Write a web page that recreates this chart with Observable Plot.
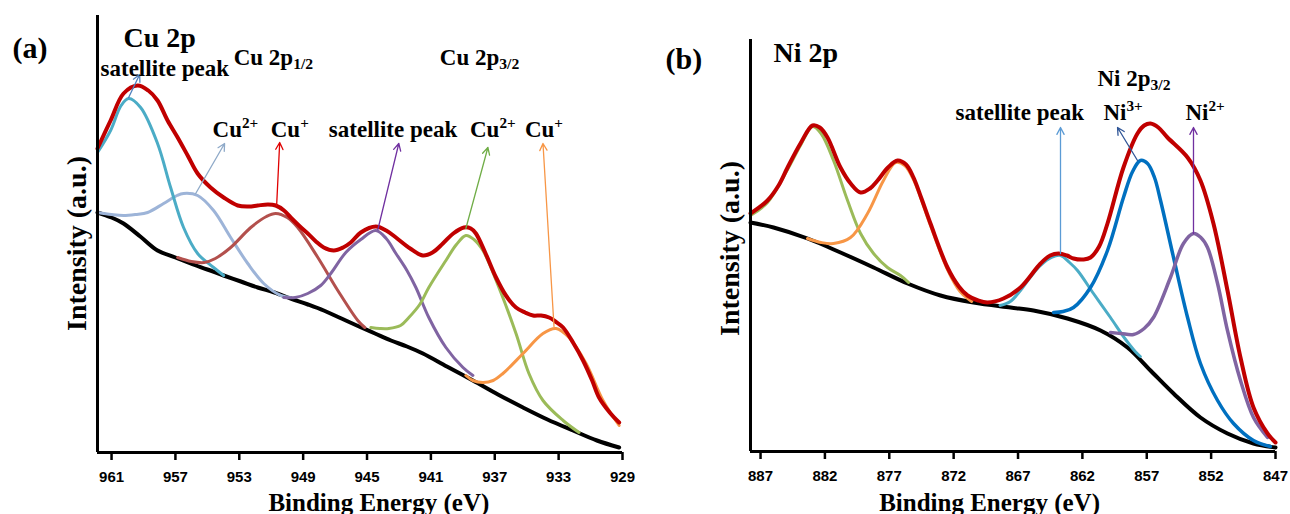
<!DOCTYPE html>
<html>
<head>
<meta charset="utf-8">
<script src="https://cdn.jsdelivr.net/npm/d3@7"></script>
<script src="https://cdn.jsdelivr.net/npm/@observablehq/plot@0.6"></script>
<style>
  html, body { margin: 0; padding: 0; background: #fff; }
  #wrap { position: relative; width: 1290px; height: 514px; overflow: hidden; background: #fff; }
  #pa, #pb { position: absolute; top: 0; width: 645px; height: 514px; }
  #pa { left: 0; }
  #pb { left: 645px; }
</style>
</head>
<body>
<div id="wrap"><div id="pa"></div><div id="pb"></div></div>
<script>
// ---------------- Panel (a): Cu 2p ----------------
const cuTicks = [961, 957, 953, 949, 945, 941, 937, 933, 929];
const cuEnvelope = [[961.88,304],[961.06,332],[960.25,359],[959.37,367],[958.7,362],[958.12,352],[957.49,332],[956.86,315],[956.2,296],[955.61,279],[954.8,265],[953.98,255],[953.1,247],[952.4,246],[951.85,247],[951.2,248],[950.72,247],[950.2,242],[949.78,235],[949.2,226],[948.71,219],[948.2,211],[947.71,205],[947.08,202],[946.5,205],[946.02,210],[945.39,220],[944.45,226],[943.8,222],[943.19,215],[942.3,204],[941.5,197],[940.9,200],[940.25,209],[939.6,219],[938.93,225],[938.5,224],[938.18,219],[937.6,200],[936.92,175],[936.3,157],[935.67,145],[935.1,140],[934.6,137],[934.1,137],[933.6,135],[933.2,131],[932.72,125],[932.1,110],[931.47,92],[930.9,72],[930.47,55],[929.8,40],[929.21,30]];
const cuBackground = [[961.88,240],[961.0,235],[960.25,229],[959.2,216],[958.12,202],[957.0,195],[956.05,189],[955.0,183],[953.98,177],[952.9,171],[951.85,165],[950.8,160],[949.78,154],[948.7,148],[947.71,142],[946.6,134],[945.5,126],[944.5,119],[943.5,112],[942.5,106],[941.5,99],[940.0,86],[938.37,72],[936.8,58],[935.23,45],[933.7,33],[932.1,22],[930.6,12],[929.21,5]];
const cuSatellite1 = [[961.88,300],[961.06,322],[960.4,347],[959.93,354],[959.18,345],[958.12,309],[957.3,265],[956.49,225],[955.61,199],[954.61,185],[953.98,177]];
const cuCu2_p12 = [[961.88,240],[961.0,238],[960.25,237],[959.5,238],[958.74,240],[957.74,249],[956.9,257],[956.49,259],[955.61,257],[954.61,242],[953.54,215],[952.47,189],[951.47,169],[950.4,157],[949.78,155]];
const cuCu1_p12 = [[956.86,195],[956.0,191],[955.2,190],[954.5,194],[953.54,205],[952.28,225],[951.3,236],[950.72,239],[950.0,235],[949.34,225],[948.08,195],[946.83,162],[945.58,132],[945.14,125]];
const cuSatellite2 = [[950.22,155],[949.5,155],[948.71,159],[947.9,167],[947.27,179],[946.33,200],[945.39,213],[944.45,222],[943.8,214],[943.19,199],[942.5,182],[941.94,165],[941.13,135],[940.06,105],[938.99,85],[938.37,77]];
const cuCu2_p32 = [[944.76,125],[944.2,124],[943.63,124],[942.9,127],[942.38,135],[941.7,148],[941.13,165],[940.06,192],[939.4,208],[938.81,217],[938.3,213],[937.74,202],[936.74,165],[935.67,119],[934.86,79],[933.98,52],[932.72,32],[931.72,20]];
const cuCu1_p32 = [[938.81,77],[938.37,72],[937.74,70],[937.1,72],[936.49,79],[935.23,99],[933.98,119],[933.16,124],[932.35,115],[931.28,89],[930.22,52],[929.21,27]];

// ---------------- Panel (b): Ni 2p ----------------
const niTicks = [887, 882, 877, 872, 867, 862, 857, 852, 847];
const niEnvelope = [[887.78,238],[886.46,251],[885.6,266],[884.9,284],[883.9,308],[882.96,326],[882.4,324],[881.8,314],[880.79,284],[880.0,268],[879.23,259],[878.5,263],[877.91,271],[877.1,284],[876.36,291],[875.7,287],[875.12,274],[874.5,253],[873.8,228],[872.48,184],[871.6,165],[870.92,156],[870.1,151],[869.37,149],[868.13,153],[866.81,164],[865.25,188],[864.5,196],[863.85,198],[863.2,196],[862.69,193],[861.9,192],[861.37,194],[860.7,205],[860.05,228],[858.81,284],[857.72,318],[857.2,326],[856.71,328],[856.1,324],[855.39,314],[853.83,294],[852.83,271],[851.82,228],[850.73,161],[849.72,94],[848.71,44],[847.62,18],[847.0,9]];
const niBackground = [[887.78,229],[885.99,224],[883.35,213],[880.79,199],[878.22,184],[875.58,168],[873.02,156],[870.46,149],[867.58,144],[865.8,141],[863.16,133],[860.59,121],[858.5,104],[856.71,81],[854.92,58],[852.83,34],[850.73,18],[848.71,8],[847.0,4]];
const niSatelliteA = [[887.78,236],[886.46,249],[884.9,282],[883.9,306],[882.96,325],[882.3,318],[881.33,291],[880.24,251],[879.23,218],[878.22,198],[877.14,184],[876.13,176],[875.5,169]];
const niSatelliteB = [[883.35,213],[882.3,209],[881.33,208],[880.01,214],[878.69,238],[877.45,271],[876.51,289],[875.8,286],[875.12,272],[873.8,226],[872.48,182],[871.5,160],[870.6,150]];
const niSatelliteC = [[868.4,146],[867.6,150],[866.81,161],[866.0,175],[865.25,186],[864.4,194],[863.7,196],[863.0,189],[862.38,181],[861.14,158],[859.82,134],[858.7,113],[857.9,100],[857.5,95]];
const niNi3 = [[864.24,139],[863.5,140],[862.69,144],[861.37,164],[860.05,201],[858.81,254],[858.1,280],[857.49,291],[856.94,288],[856.4,274],[855.93,251],[854.92,194],[853.83,134],[852.83,88],[851.5,51],[850.26,28],[848.71,11],[847.4,5]];
const niNi2 = [[859.82,119],[859.0,118],[858.03,117],[857.2,123],[856.48,134],[855.16,174],[854.15,208],[853.37,218],[852.8,214],[852.28,204],[851.5,168],[850.73,121],[849.72,71],[848.71,34],[847.62,14]];

// ---------------- Annotations (data units: eV, a.u.) ----------------
const cuArrows = [
  {x1: 959.93, y1: 355, x2: 959.24, y2: 378, c: "#4F81BD"},
  {x1: 955.73, y1: 259, x2: 953.92, y2: 309, c: "#8EA9C8"},
  {x1: 950.66, y1: 247, x2: 950.47, y2: 310, c: "#E00000"},
  {x1: 944.32, y1: 223, x2: 943.01, y2: 309, c: "#7030A0"},
  {x1: 938.81, y1: 224, x2: 937.43, y2: 305, c: "#70AD47"},
  {x1: 933.29, y1: 126, x2: 933.98, y2: 309, c: "#F79646"}
];
const niArrows = [
  {x1: 863.70, y1: 198, x2: 863.70, y2: 324, c: "#5B9BD5"},
  {x1: 857.72, y1: 291, x2: 859.27, y2: 324, c: "#2F5597"},
  {x1: 853.37, y1: 218, x2: 853.37, y2: 324, c: "#7030A0"}
];
const cuPanelLabel = [{x: 967.21, y: 395, t: "(a)"}];
const cuTitle = [{x: 960.25, y: 406, t: "Cu 2p"}];
const cuNotes = [
  {x: 961.69, y: 377, t: "satellite peak"},
  {x: 953.35, y: 388, t: "Cu 2p_{1/2}"},
  {x: 940.44, y: 388, t: "Cu 2p_{3/2}"},
  {x: 954.67, y: 316, t: "Cu^{2+}"},
  {x: 951.03, y: 316, t: "Cu^{+}"},
  {x: 947.39, y: 316, t: "satellite peak"},
  {x: 938.55, y: 316, t: "Cu^{2+}"},
  {x: 935.11, y: 316, t: "Cu^{+}"}
];
const niPanelLabel = [{x: 894.38, y: 383, t: "(b)"}];
const niTitle = [{x: 885.99, y: 390, t: "Ni 2p"}];
const niNotes = [
  {x: 860.83, y: 366, t: "Ni 2p_{3/2}"},
  {x: 871.85, y: 332, t: "satellite peak"},
  {x: 860.36, y: 332, t: "Ni^{3+}"},
  {x: 853.99, y: 332, t: "Ni^{2+}"}
];
const xTitle = "Binding Energy (eV)";
const yTitle = "Intensity (a.u.)";

const SERIF = "'Liberation Serif', 'Times New Roman', Times, serif";
const SANS = "'Liberation Sans', Arial, sans-serif";

function lineMark(data, color, w) {
  return Plot.line(data, {x: d => d[0], y: d => d[1], stroke: color, strokeWidth: w,
    curve: "catmull-rom", strokeLinecap: "round", strokeLinejoin: "round"});
}

function panel(cfg) {
  const textBase = {x: "x", y: "y", text: "t", fill: "black", fontFamily: SERIF, fontWeight: "bold", textAnchor: "start", lineAnchor: "bottom", ariaLabel: "ann"};
  return Plot.plot({
    width: 645, height: 514,
    marginLeft: cfg.ml, marginRight: cfg.mr, marginTop: cfg.mt, marginBottom: cfg.mb,
    x: {domain: cfg.xDomain},
    y: {domain: cfg.yDomain, axis: null},
    style: {background: "white", overflow: "visible"},
    marks: [
      ...cfg.series.map(s => lineMark(s.data, s.color, s.w)),
      Plot.ruleY([cfg.yDomain[0]], {stroke: "black", strokeWidth: 3}),
      Plot.ruleX([cfg.xDomain[0]], {y1: cfg.yDomain[0], y2: cfg.yDomain[1], stroke: "black", strokeWidth: 3}),
      Plot.axisX(cfg.ticks, {anchor: "bottom", tickSize: 8, tickPadding: 11, strokeWidth: 2.5, stroke: "black",
        tickFormat: d => String(d), fontSize: 15, fontWeight: "bold", fontFamily: SANS, fill: "black", label: null}),
      Plot.arrow(cfg.arrows, {x1: "x1", y1: "y1", x2: "x2", y2: "y2", stroke: d => d.c, strokeWidth: 1.3, headLength: 9, headAngle: 55}),
      Plot.text(cfg.panelLabel, {...textBase, fontSize: 30}),
      Plot.text(cfg.title, {...textBase, fontSize: 28}),
      Plot.text(cfg.notes, {...textBase, fontSize: 23}),
      Plot.text([cfg.xt], {x: "x", y: "y", text: "t", fontFamily: SERIF, fontWeight: "bold", fontSize: 25, textAnchor: "middle", lineAnchor: "bottom", fill: "black"}),
      Plot.text([cfg.yt], {x: "x", y: "y", text: "t", fontFamily: SERIF, fontWeight: "bold", fontSize: 28, textAnchor: "middle", lineAnchor: "bottom", rotate: -90, fill: "black"})
    ],
    color: {type: "identity"}
  });
}

function richify(svg) {
  svg.querySelectorAll("text").forEach(t => {
    const s = t.textContent;
    if (!/[\^_]\{/.test(s)) return;
    const holder = t.closest("[font-size]");
    const fs = holder ? parseFloat(holder.getAttribute("font-size")) : 22;
    while (t.firstChild) t.removeChild(t.firstChild);
    const parts = s.split(/(\^\{[^}]*\}|_\{[^}]*\})/).filter(p => p.length);
    let shift = 0;
    for (const p of parts) {
      const ts = document.createElementNS("http://www.w3.org/2000/svg", "tspan");
      let target = 0, txt = p;
      if (p.startsWith("^{")) { target = -0.36 * fs; txt = p.slice(2, -1); ts.setAttribute("font-size", (0.66 * fs) + "px"); }
      else if (p.startsWith("_{")) { target = 0.2 * fs; txt = p.slice(2, -1); ts.setAttribute("font-size", (0.68 * fs) + "px"); }
      ts.setAttribute("dy", (target - shift).toFixed(2));
      shift = target;
      ts.textContent = txt;
      t.appendChild(ts);
    }
  });
  svg.querySelectorAll('g[aria-label="x-axis tick label"]').forEach(g => {
    g.setAttribute("font-weight", "bold");
    g.setAttribute("font-family", SANS);
    g.setAttribute("font-size", "15");
  });
}

const svgA = panel({
  ml: 97, mr: 23, mt: 15, mb: 62,
  xDomain: [961.88, 929], yDomain: [0, 437], ticks: cuTicks,
  series: [
    {data: cuBackground, color: "#000000", w: 4},
    {data: cuCu2_p12, color: "#9DB4D8", w: 3},
    {data: cuSatellite1, color: "#4BACC6", w: 3},
    {data: cuCu1_p12, color: "#B3504D", w: 3},
    {data: cuSatellite2, color: "#8064A2", w: 3},
    {data: cuCu2_p32, color: "#9BBB59", w: 3},
    {data: cuCu1_p32, color: "#F79646", w: 3},
    {data: cuEnvelope, color: "#C00000", w: 4}
  ],
  arrows: cuArrows, panelLabel: cuPanelLabel, title: cuTitle, notes: cuNotes,
  xt: {x: 944.26, y: -58, t: xTitle}, yt: {x: 962.57, y: 209, t: yTitle}
});
const svgB = panel({
  ml: 105, mr: 15, mt: 39, mb: 63,
  xDomain: [887.78, 847], yDomain: [0, 412], ticks: niTicks,
  series: [
    {data: niBackground, color: "#000000", w: 4},
    {data: niSatelliteA, color: "#9BBB59", w: 3},
    {data: niSatelliteB, color: "#F79646", w: 3},
    {data: niSatelliteC, color: "#4BACC6", w: 3},
    {data: niNi3, color: "#0070C0", w: 3.5},
    {data: niNi2, color: "#8064A2", w: 3.5},
    {data: niEnvelope, color: "#C00000", w: 4}
  ],
  arrows: niArrows, panelLabel: niPanelLabel, title: niTitle, notes: niNotes,
  xt: {x: 869.21, y: -59, t: xTitle}, yt: {x: 888.71, y: 203, t: yTitle}
});
richify(svgA);
richify(svgB);
document.getElementById("pa").appendChild(svgA);
document.getElementById("pb").appendChild(svgB);
</script>
</body>
</html>
